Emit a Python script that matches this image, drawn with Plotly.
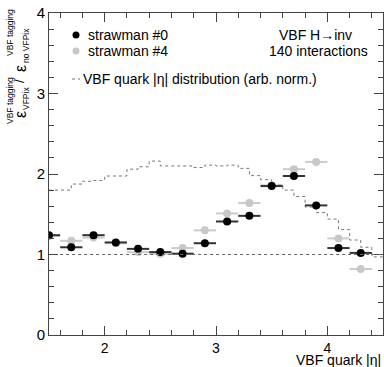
import plotly.graph_objects as go

# ---- data ----
centers = [1.5, 1.7, 1.9, 2.1, 2.3, 2.5, 2.7, 2.9, 3.1, 3.3, 3.5, 3.7, 3.9, 4.1, 4.3]
straw0 = [1.24, 1.09, 1.24, 1.15, 1.07, 1.03, 1.01, 1.14, 1.41, 1.48, 1.85, 1.975, 1.61, 1.08, 1.02]
straw4 = [1.23, 1.17, 1.21, 1.14, 1.03, 1.01, 1.08, 1.30, 1.51, 1.64, 1.86, 2.06, 2.15, 1.20, 0.82]
half_width = [0.1] * len(centers)

hist_edges = [1.5, 1.6, 1.7, 1.8, 1.9, 2.0, 2.1, 2.2, 2.3, 2.4, 2.5, 2.6, 2.7, 2.8, 2.9,
              3.0, 3.1, 3.2, 3.3, 3.4, 3.5, 3.6, 3.7, 3.8, 3.9, 4.0, 4.1, 4.2, 4.3, 4.4, 4.5]
hist_vals = [1.80, 1.80, 1.875, 1.91, 1.92, 1.975, 1.975, 2.06, 2.09, 2.16,
             2.10, 2.10, 2.10, 2.08, 2.11, 2.10, 2.11, 2.07, 1.98, 1.93,
             1.87, 1.80, 1.72, 1.59, 1.52, 1.44, 1.31, 1.18, 1.09, 0.97]

FONT = "Liberation Sans, Arial, Helvetica, sans-serif"

fig = go.Figure()

# histogram (step)
fig.add_trace(go.Scatter(
    x=hist_edges, y=hist_vals + [hist_vals[-1]], mode="lines", line_shape="hv",
    line=dict(color="#777777", width=1, dash="dot"), showlegend=False, hoverinfo="skip"))

# gray series (strawman #4)
fig.add_trace(go.Scatter(
    x=centers, y=straw4, mode="markers",
    marker=dict(color="#c8c8c8", size=8),
    error_x=dict(type="data", array=half_width, width=0, thickness=2, color="#cccccc"),
    showlegend=False))

# black series (strawman #0)
fig.add_trace(go.Scatter(
    x=centers, y=straw0, mode="markers",
    marker=dict(color="#000000", size=8),
    error_x=dict(type="data", array=half_width, width=0, thickness=2, color="#333333"),
    showlegend=False))

# reference line at 1
fig.add_shape(type="line", xref="x", yref="y", x0=1.6, x1=4.5, y0=1, y1=1,
              line=dict(color="#666666", width=1, dash="dot"))

axis_common = dict(
    showgrid=False, zeroline=False, showline=True, linecolor="#444444", linewidth=1,
    ticks="inside", ticklen=9, tickcolor="#444444", mirror="allticks",
)

fig.update_xaxes(range=[1.5, 4.5], tick0=2, dtick=1,
                 tickfont=dict(family=FONT, size=14, color="#000"),
                 minor=dict(dtick=0.2, tick0=2, ticks="inside", ticklen=5, tickcolor="#444444"),
                 **axis_common)
fig.update_yaxes(range=[0, 4], tick0=0, dtick=1,
                 tickfont=dict(family=FONT, size=15, color="#000"),
                 minor=dict(dtick=0.2, tick0=0, ticks="inside", ticklen=5, tickcolor="#444444"),
                 **axis_common)

L, R, T, B = 49, 1, 13, 32
W, H = 384, 367
pw, ph = W - L - R, H - T - B

def px(x):
    return (x - L) / pw

def py(y):
    return (H - B - y) / ph

ann = []
def text(s, x, y, size, xanchor="left", yanchor="middle", angle=0):
    ann.append(dict(text=s, x=px(x), y=py(y), xref="paper", yref="paper",
                    xanchor=xanchor, yanchor=yanchor, showarrow=False, textangle=angle,
                    font=dict(family=FONT, size=size, color="#000")))

# legend texts
text("strawman #0", 86, 35, 14)
text("strawman #4", 86, 51, 14)
text("VBF quark |η| distribution (arb. norm.)", 81, 79, 14)
text("VBF H→inv", 315, 35, 14, xanchor="center")
text("140 interactions", 318, 51, 14, xanchor="center")

# x axis title
text("VBF quark |η|", 383, 360, 14, xanchor="right")

# y axis title (stacked sub/superscripts)
text("ε", 20, 115, 16, xanchor="center", angle=-90)
text("VBF tagging", 10, 101, 8.5, xanchor="center", angle=-90)
text("VFPix", 26, 99, 8.5, xanchor="center", angle=-90)
text("/", 20, 81, 13, xanchor="center", angle=-90)
text("ε", 20, 69, 16, xanchor="center", angle=-90)
text("VBF tagging", 10, 33, 8.5, xanchor="center", angle=-90)
text("no VFPix", 26, 46, 8.5, xanchor="center", angle=-90)

# legend symbols
shapes = []
for yy, col in [(35, "#000000"), (51, "#c8c8c8")]:
    shapes.append(dict(type="circle", xref="paper", yref="paper",
                       xsizemode="pixel", ysizemode="pixel",
                       xanchor=px(76), yanchor=py(yy), x0=-3.5, x1=3.5, y0=-3.5, y1=3.5,
                       fillcolor=col, line=dict(color=col, width=0)))
shapes.append(dict(type="line", xref="paper", yref="paper", x0=px(72), x1=px(80),
                   y0=py(79), y1=py(79), line=dict(color="#777777", width=1, dash="dot")))
for s in shapes:
    fig.add_shape(**s)

fig.update_layout(
    width=W, height=H, margin=dict(l=L, r=R, t=T, b=B),
    paper_bgcolor="white", plot_bgcolor="white",
    annotations=ann, showlegend=False,
)

fig.write_html("out.html")
